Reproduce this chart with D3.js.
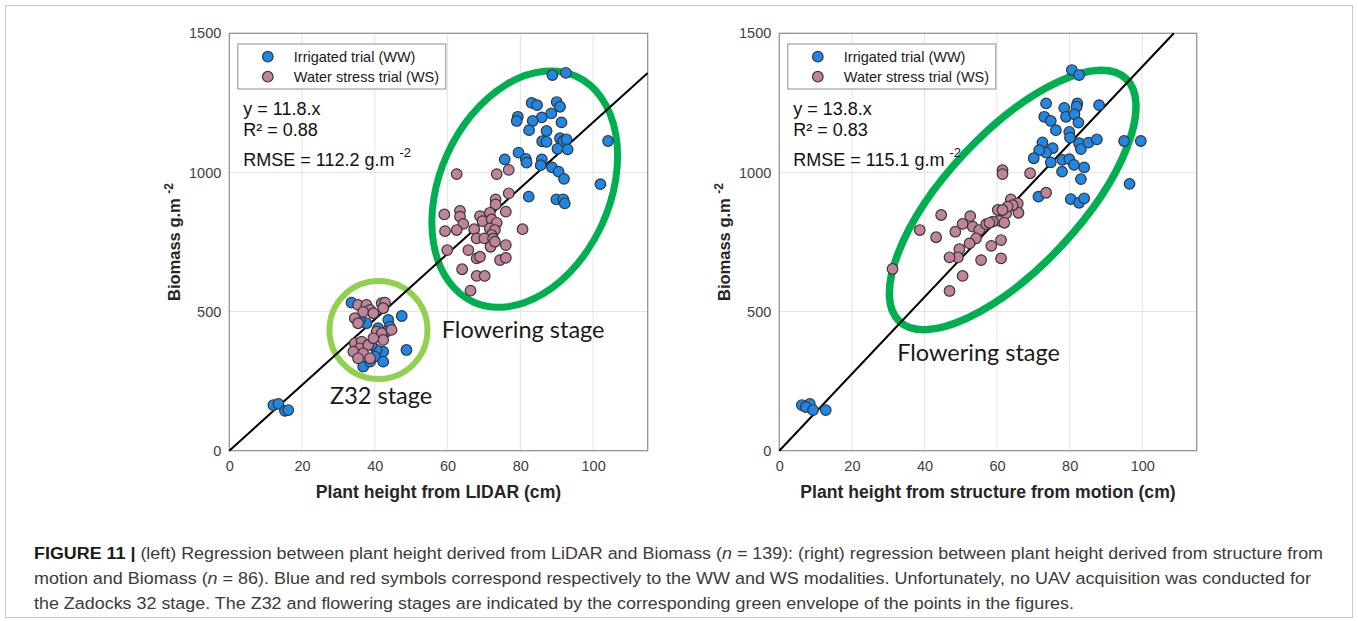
<!DOCTYPE html>
<html>
<head>
<meta charset="utf-8">
<script src="https://cdn.jsdelivr.net/npm/d3@7"></script>
<style>
  body { margin: 0; background: #fff; }
  svg { display: block; }
</style>
</head>
<body>
<svg id="fig" width="1358" height="621"></svg>
<script>
// ---- axes ----
const xTicks = [0, 20, 40, 60, 80, 100];
const yTicks = [0, 500, 1000, 1500];
const xDomain = [0, 115];
const yDomain = [0, 1500];

// ---- LiDAR panel: [plant height (cm), biomass (g.m-2)] ----
const lidarWW = [
  [12.1,164],[13.5,168],[15.3,143],[16.2,146],
  [33.6,532],[47.4,484],[48.7,362],[36.8,302],[41.4,338],[42.3,356],[40.5,362],[39.1,380],
  [43.7,470],[44.1,446],[43.2,428],[37.7,458],[35.9,470],[40.0,338],[38.7,320],[42.3,320],[40.9,440],
  [88.8,1350],[92.5,1358],[83.1,1250],[84.6,1242],[90.0,1253],[90.9,1236],[79.3,1200],[79.0,1185],
  [85.9,1198],[88.5,1212],[83.4,1185],[91.3,1180],[82.4,1152],[87.2,1149],[86.0,1112],[87.2,1110],
  [90.9,1123],[91.8,1113],[92.7,1119],[90.2,1085],[93.0,1083],[104.1,1113],[79.5,1071],[75.7,1047],
  [81.5,1049],[81.7,1035],[85.9,1047],[85.6,1026],[88.7,1018],[90.5,1003],[92.0,977],[102.0,958],
  [82.3,913],[89.9,903],[91.8,903],[92.2,889]
];
const lidarWS = [
  [35.4,524],[37.7,524],[38.7,506],[36.8,499],[41.9,530],[42.8,532],[42.3,512],[39.6,494],
  [34.5,476],[35.4,458],[40.5,428],[41.9,422],[44.6,434],[34.5,386],[36.4,392],[35.9,368],
  [38.2,380],[34.1,356],[36.8,350],[38.7,332],[35.4,332],[42.3,398],[39.6,404],
  [62.5,994],[73.5,994],[76.8,1009],[76.8,925],[73.2,903],[73.2,885],[63.4,862],[63.4,841],
  [59.1,849],[64.3,815],[62.5,793],[59.3,789],[68.9,843],[71.6,855],[76.0,859],[69.6,825],
  [72.1,831],[73.5,819],[67.3,796],[71.6,799],[73.0,793],[72.1,775],[68.0,763],[70.1,763],
  [72.5,762],[80.6,796],[71.8,733],[73.0,751],[76.0,739],[59.9,721],[65.7,721],[68.0,691],
  [68.9,697],[74.4,685],[76.0,693],[64.0,652],[68.0,628],[70.2,628],[66.3,575]
];

// ---- Structure-from-motion panel ----
const sfmWW = [
  [6.2,164],[8.4,168],[7.3,157],[9.3,146],[12.8,146],
  [80.6,1368],[82.6,1350],[73.5,1248],[78.5,1232],[82.1,1248],[81.9,1236],[88.1,1242],
  [73.0,1200],[74.8,1185],[79.0,1200],[81.3,1209],[82.4,1179],[76.2,1152],[79.9,1146],
  [80.1,1125],[72.5,1108],[75.3,1087],[73.5,1071],[71.6,1080],[82.6,1105],[83.1,1084],
  [85.2,1107],[87.5,1119],[95.0,1113],[99.6,1113],[70.1,1051],[74.8,1036],[78.0,1045],
  [79.9,1048],[81.2,1027],[84.0,1018],[77.9,1003],[83.1,976],[96.5,959],[71.4,913],
  [80.3,904],[82.6,891],[84.0,907]
];
const sfmWS = [
  [61.5,1008],[61.5,994],[63.8,903],[65.7,889],[60.2,865],[62.5,853],[60.6,826],[62.0,819],
  [58.8,823],[44.6,847],[38.7,793],[43.2,767],[48.5,787],[50.5,815],[52.6,843],[53.3,805],
  [55.1,793],[57.0,814],[57.9,819],[54.2,763],[52.4,745],[49.6,724],[49.2,695],[46.9,695],
  [55.6,685],[58.4,736],[61.1,757],[61.1,691],[50.5,628],[46.9,574],[31.2,653],[69.1,997],
  [73.5,927],[65.9,855],[64.3,882],[62.9,877],[61.5,865]
];

// ---- fits ----
const lidarSlope = 11.8;
const sfmSlope = 13.8;
const lidarStats = ["y = 11.8.x", "R\u00B2 = 0.88", "RMSE = 112.2 g.m"];
const sfmStats = ["y = 13.8.x", "R\u00B2 = 0.83", "RMSE = 115.1 g.m"];

// ---- legend ----
const seriesNames = ["Irrigated trial (WW)", "Water stress trial (WS)"];
const seriesColors = ["#1f87e6", "#c1839b"];

// ---- growth-stage envelopes (centre in data units, radii in px, rotation in degrees) ----
const lidarEnvelopes = [
  { name: "Flowering stage", cx: 81.2, cy: 940, rx: 124, ry: 85, angle: -65.5, color: "#00b050", width: 7,
    lx: 58.4, ly: 406 },
  { name: "Z32 stage", cx: 41.0, cy: 434, rx: 49, ry: 49, angle: 0, color: "#92d050", width: 6,
    lx: 27.7, ly: 168 }
];
const sfmEnvelopes = [
  { name: "Flowering stage", cx: 64.3, cy: 901, rx: 166, ry: 67, angle: -47, color: "#00b050", width: 7.5,
    lx: 32.5, ly: 322 }
];

const captionLines = [
  [{t: "FIGURE 11 | ", b: true}, {t: "(left) Regression between plant height derived from LiDAR and Biomass ("}, {t: "n", i: true},
   {t: " = 139): (right) regression between plant height derived from structure from"}],
  [{t: "motion and Biomass ("}, {t: "n", i: true}, {t: " = 86). Blue and red symbols correspond respectively to the WW and WS modalities. Unfortunately, no UAV acquisition was conducted for"}],
  [{t: "the Zadocks 32 stage. The Z32 and flowering stages are indicated by the corresponding green envelope of the points in the figures."}]
];
const captionWidths = [1289, 1277, 1040];

const svg = d3.select("#fig");

// outer frame of the figure
svg.append("rect")
  .attr("x", 5.5).attr("y", 5.5).attr("width", 1347).attr("height", 612)
  .attr("fill", "none").attr("stroke", "#c8c8c8").attr("stroke-width", 1);

function drawPanel(cfg) {
  const x = d3.scaleLinear().domain(xDomain).range([cfg.left, cfg.right]);
  const y = d3.scaleLinear().domain(yDomain).range([cfg.bottom, cfg.top]);
  const g = svg.append("g");

  // grid
  g.append("g").selectAll("line").data(xTicks.slice(1)).join("line")
    .attr("x1", d => x(d)).attr("x2", d => x(d)).attr("y1", y(0)).attr("y2", y(1500))
    .attr("stroke", "#e4e4e4").attr("stroke-width", 1);
  g.append("g").selectAll("line").data(yTicks.slice(1, -1)).join("line")
    .attr("x1", x(0)).attr("x2", x(115)).attr("y1", d => y(d)).attr("y2", d => y(d))
    .attr("stroke", "#e4e4e4").attr("stroke-width", 1);

  // axes
  const xAxis = d3.axisBottom(x).tickValues(xTicks).tickFormat(d3.format("d")).tickSize(0).tickPadding(10);
  const yAxis = d3.axisLeft(y).tickValues(yTicks).tickFormat(d3.format("d")).tickSize(0).tickPadding(8);
  const gx = g.append("g").attr("transform", `translate(0,${y(0)})`).call(xAxis);
  const gy = g.append("g").attr("transform", `translate(${x(0)},0)`).call(yAxis);
  [gx, gy].forEach(a => {
    a.select(".domain").remove();
    a.selectAll("text").attr("font-family", "'Liberation Sans', Arial, sans-serif")
      .attr("font-size", "14.5px").attr("fill", "#404040");
  });

  // box
  g.append("rect").attr("x", x(0)).attr("y", y(1500))
    .attr("width", x(115) - x(0)).attr("height", y(0) - y(1500))
    .attr("fill", "none").attr("stroke", "#8c8c8c").attr("stroke-width", 1.2);

  // axis titles
  g.append("text").attr("x", (x(0) + x(115)) / 2).attr("y", cfg.bottom + 47)
    .attr("text-anchor", "middle").attr("font-family", "'Liberation Sans', Arial, sans-serif")
    .attr("font-weight", "bold").attr("font-size", "17.6px").attr("fill", "#262626")
    .text(cfg.xLabel);
  const yl = g.append("text")
    .attr("transform", `translate(${cfg.yLabelX},${(y(0) + y(1500)) / 2}) rotate(-90)`)
    .attr("text-anchor", "middle").attr("font-family", "'Liberation Sans', Arial, sans-serif")
    .attr("font-weight", "bold").attr("font-size", "16.5px").attr("fill", "#262626");
  yl.append("tspan").text("Biomass g.m ");
  yl.append("tspan").attr("dy", -7).attr("font-size", "12px").text("-2");

  // envelopes
  cfg.envelopes.forEach(e => {
    g.append("ellipse")
      .attr("transform", `translate(${x(e.cx)},${y(e.cy)}) rotate(${e.angle})`)
      .attr("rx", e.rx).attr("ry", e.ry)
      .attr("fill", "none").attr("stroke", e.color).attr("stroke-width", e.width);
  });

  // regression line through the origin, clipped to the box
  const xEnd = Math.min(xDomain[1], yDomain[1] / cfg.slope);
  g.append("line")
    .attr("x1", x(0)).attr("y1", y(0)).attr("x2", x(xEnd)).attr("y2", y(cfg.slope * xEnd))
    .attr("stroke", "#000").attr("stroke-width", 2);

  // points
  [cfg.ww, cfg.ws].forEach((pts, i) => {
    g.append("g").selectAll("circle").data(pts).join("circle")
      .attr("cx", d => x(d[0])).attr("cy", d => y(d[1])).attr("r", 5.3)
      .attr("fill", seriesColors[i]).attr("stroke", "#363636").attr("stroke-width", 1.2);
  });

  // envelope labels
  cfg.envelopes.forEach(e => {
    g.append("text").attr("x", x(e.lx)).attr("y", y(e.ly))
      .attr("font-family", "Lato, 'Open Sans', sans-serif").attr("font-size", "23.5px")
      .attr("fill", "#1a1a1a").text(e.name);
  });

  // legend
  const lg = g.append("g").attr("transform", `translate(${x(0) + 8.5},${y(1500) + 10.7})`);
  lg.append("rect").attr("width", 208).attr("height", 45)
    .attr("fill", "#fff").attr("stroke", "#8c8c8c").attr("stroke-width", 1);
  seriesNames.forEach((n, i) => {
    lg.append("circle").attr("cx", 30).attr("cy", 12.7 + i * 20).attr("r", 5.3)
      .attr("fill", seriesColors[i]).attr("stroke", "#363636").attr("stroke-width", 1.2);
    lg.append("text").attr("x", 56).attr("y", 18 + i * 20)
      .attr("font-family", "'Liberation Sans', Arial, sans-serif").attr("font-size", "14.5px")
      .attr("fill", "#1a1a1a").text(n);
  });

  // fit statistics
  const sx = x(0) + 14;
  const stY = [114.7, 135.7, 165.7];
  cfg.stats.forEach((s, i) => {
    const t = g.append("text").attr("x", sx).attr("y", stY[i])
      .attr("font-family", "'Liberation Sans', Arial, sans-serif").attr("font-size", "18px")
      .attr("fill", "#111");
    t.append("tspan").text(s);
    if (i === 2) t.append("tspan").attr("dx", 5).attr("dy", -9).attr("font-size", "13px").text("-2");
  });
}

drawPanel({
  left: 229.3, right: 647.7, top: 33.3, bottom: 450.7,
  ww: lidarWW, ws: lidarWS, slope: lidarSlope, stats: lidarStats,
  envelopes: lidarEnvelopes, xLabel: "Plant height from LIDAR (cm)", yLabelX: 180
});
drawPanel({
  left: 779.3, right: 1196.7, top: 33.3, bottom: 450.7,
  ww: sfmWW, ws: sfmWS, slope: sfmSlope, stats: sfmStats,
  envelopes: sfmEnvelopes, xLabel: "Plant height from structure from motion (cm)", yLabelX: 730
});

// caption
const cap = svg.append("g");
captionLines.forEach((line, li) => {
  const t = cap.append("text").attr("x", 34).attr("y", 558.5 + li * 25)
    .attr("font-family", "'Liberation Sans', Arial, sans-serif").attr("font-size", "17.4px")
    .attr("fill", "#3a3a3a")
    .attr("textLength", captionWidths[li]).attr("lengthAdjust", "spacingAndGlyphs");
  line.forEach(seg => {
    const s = t.append("tspan").text(seg.t);
    if (seg.b) s.attr("font-weight", "bold").attr("fill", "#1a1a1a");
    if (seg.i) s.attr("font-style", "italic");
  });
});
</script>
</body>
</html>
